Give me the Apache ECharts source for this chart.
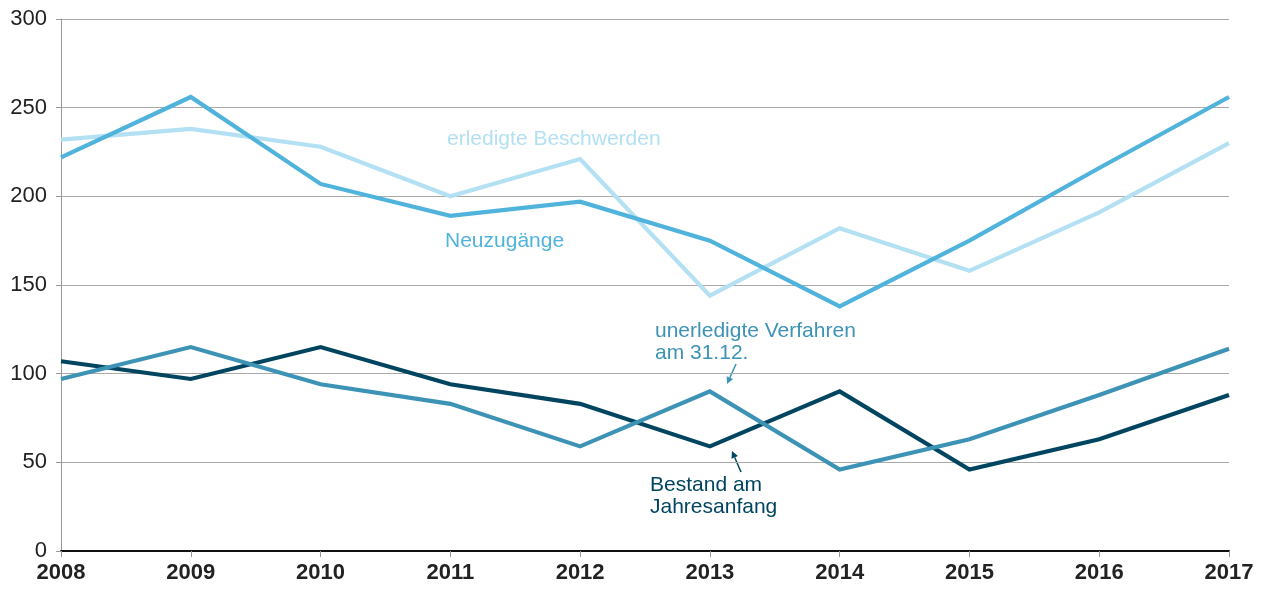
<!DOCTYPE html>
<html lang="de">
<head>
    <meta charset="UTF-8">
    <title>Beschwerden</title>
    <script src="https://cdn.jsdelivr.net/npm/echarts@6/dist/echarts.min.js"></script>
</head>
<body style="margin:0;background:#fff;">
<div id="main" style="width:1262px;height:593px;"></div>
<script type="text/javascript">
    // Daten
    var years = ['2008', '2009', '2010', '2011', '2012', '2013', '2014', '2015', '2016', '2017'];
    var neuzugaenge = [222, 256, 207, 189, 197, 175, 138, 175, 216, 256];
    var erledigt = [232, 238, 228, 200, 221, 144, 182, 158, 191, 230];
    var bestand = [107, 97, 115, 94, 83, 59, 90, 46, 63, 88];
    var unerledigt = [97, 115, 94, 83, 59, 90, 46, 63, 88, 114];
    var yTicks = [0, 50, 100, 150, 200, 250, 300];

    var font = '"Liberation Sans", Arial, Helvetica, sans-serif';
    var myChart = echarts.init(document.getElementById('main'));

    function line(name, data, color, z) {
        return {
            name: name,
            type: 'line',
            data: data,
            symbol: 'none',
            z: z,
            lineStyle: { color: color, width: 4.2, join: 'miter' },
            itemStyle: { color: color },
            animation: false
        };
    }

    function arrow(x1, y1, x2, y2, color) {
        var ang = Math.atan2(y2 - y1, x2 - x1);
        var L = 7, W = 3.5;
        var bx = x2 - L * Math.cos(ang), by = y2 - L * Math.sin(ang);
        var px = -Math.sin(ang) * W, py = Math.cos(ang) * W;
        return [
            { type: 'line', shape: { x1: x1, y1: y1, x2: bx, y2: by }, style: { stroke: color, lineWidth: 1.5 } },
            { type: 'polygon', shape: { points: [[x2, y2], [bx + px, by + py], [bx - px, by - py]] }, style: { fill: color } }
        ];
    }

    var graphics = [
        { type: 'rect', shape: { x: 722, y: 371, width: 19, height: 4 }, style: { fill: '#fff' } },
        { type: 'rect', shape: { x: 727, y: 460, width: 19, height: 4 }, style: { fill: '#fff' } },
        { type: 'text', left: 447, top: 129, style: { text: 'erledigte Beschwerden', fill: '#b3e0f2', font: '21px ' + font } },
        { type: 'text', left: 445, top: 231, style: { text: 'Neuzugänge', fill: '#4fb3dc', font: '21px ' + font } },
        { type: 'text', left: 655, top: 320, style: { text: 'unerledigte Verfahren\nam 31.12.', fill: '#3d93b5', font: '21px ' + font, lineHeight: 22 } },
        { type: 'text', left: 650, top: 474, style: { text: 'Bestand am\nJahresanfang', fill: '#004560', font: '21px ' + font, lineHeight: 22 } }
    ].concat(arrow(736, 364, 727, 384, '#3d93b5'))
     .concat(arrow(741, 472, 732, 451, '#004560'));

    myChart.setOption({
        backgroundColor: '#fff',
        animation: false,
        grid: { left: 61, right: 33, top: 19, bottom: 42 },
        xAxis: {
            type: 'category',
            data: years,
            boundaryGap: false,
            axisLine: { lineStyle: { color: '#111', width: 2 } },
            axisTick: { show: true, length: 6, lineStyle: { color: '#999', width: 1 } },
            axisLabel: { color: '#222', fontSize: 22, fontWeight: 'bold', fontFamily: font, margin: 11 }
        },
        yAxis: {
            type: 'value',
            min: yTicks[0],
            max: yTicks[yTicks.length - 1],
            interval: 50,
            axisLine: { show: true, lineStyle: { color: '#999', width: 1 } },
            axisTick: { show: true, length: 5, lineStyle: { color: '#999' } },
            axisLabel: { color: '#222', fontSize: 22, fontFamily: font, margin: 14 },
            splitLine: { lineStyle: { color: '#aaa', width: 1 } }
        },
        series: [
            line('erledigte Beschwerden', erledigt, '#b3e0f2', 2),
            line('Neuzugänge', neuzugaenge, '#4fb3dc', 3),
            line('Bestand am Jahresanfang', bestand, '#004560', 4),
            line('unerledigte Verfahren am 31.12.', unerledigt, '#3d93b5', 5)
        ],
        graphic: graphics
    });
</script>
</body>
</html>
